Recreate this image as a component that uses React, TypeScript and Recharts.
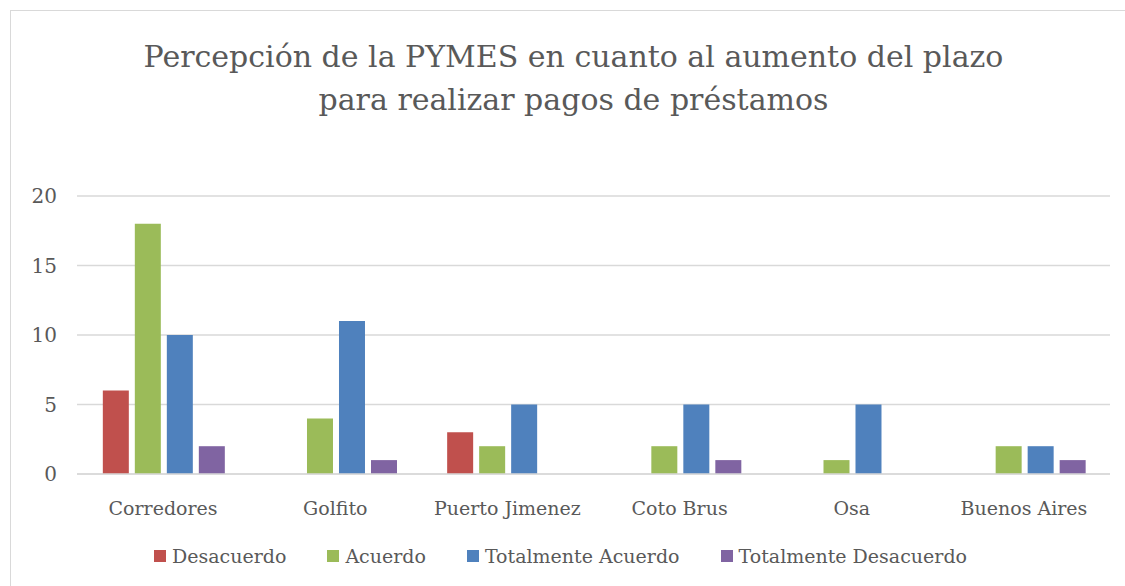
import React from "react";
import { BarChart, Bar, XAxis, YAxis, CartesianGrid, Legend } from "recharts";

const categories = ["Corredores", "Golfito", "Puerto Jimenez", "Coto Brus", "Osa", "Buenos Aires"];
const desacuerdo = [6, 0, 3, 0, 0, 0];
const acuerdo = [18, 4, 2, 2, 1, 2];
const totalmenteAcuerdo = [10, 11, 5, 5, 5, 2];
const totalmenteDesacuerdo = [2, 1, 0, 1, 0, 1];
const yTicks = [0, 5, 10, 15, 20];

const seriesDefs = [
  { key: "Desacuerdo", values: desacuerdo, color: "#C0504D" },
  { key: "Acuerdo", values: acuerdo, color: "#9BBB59" },
  { key: "Totalmente Acuerdo", values: totalmenteAcuerdo, color: "#4F81BD" },
  { key: "Totalmente Desacuerdo", values: totalmenteDesacuerdo, color: "#8064A2" },
];

const data = categories.map((c, i) => {
  const row: any = { name: c };
  seriesDefs.forEach((s) => (row[s.key] = s.values[i]));
  return row;
});

const FONT = "'DejaVu Serif', serif";
const TEXT = "#595959";

const renderLegend = () => (
  <div style={{ display: "flex", justifyContent: "center", alignItems: "center", fontFamily: FONT, fontSize: 19, color: TEXT, gap: 41, height: 28, paddingRight: 16 }}>
    {seriesDefs.map((s) => (
      <div key={s.key} style={{ display: "flex", alignItems: "center" }}>
        <span style={{ display: "inline-block", width: 12, height: 12, background: s.color, marginRight: 6 }} />
        <span>{s.key}</span>
      </div>
    ))}
  </div>
);

export default function App() {
  return (
    <div style={{ position: "absolute", left: 10, top: 10, width: 1130, height: 590, border: "1px solid #d9d9d9", background: "#fff", overflow: "hidden" }}>
      <div style={{ position: "absolute", left: 0, top: 24, width: 1125, textAlign: "center", fontFamily: FONT, fontSize: 30, color: TEXT, lineHeight: "43px" }}>
        Percepción de la PYMES en cuanto al aumento del plazo
        <br />
        para realizar pagos de préstamos
      </div>
      <div style={{ position: "absolute", left: 0, top: 0 }}>
        <BarChart
          width={1120}
          height={575}
          data={data}
          margin={{ top: 185, right: 21, left: 16, bottom: 16 }}
          barGap={6}
          barCategoryGap="15%"
        >
          <CartesianGrid vertical={false} stroke="#d9d9d9" strokeWidth={1.5} />
          <XAxis
            dataKey="name"
            height={68}
            tickLine={false}
            axisLine={{ stroke: "#d9d9d9", strokeWidth: 1.5 }}
            tick={{ fill: TEXT, fontFamily: FONT, fontSize: 19 }}
            tickMargin={22}
          />
          <YAxis
            width={50}
            domain={[0, 20]}
            ticks={yTicks}
            axisLine={false}
            tickLine={false}
            tick={{ fill: TEXT, fontFamily: FONT, fontSize: 20 }}
            tickMargin={14}
          />
          <Legend verticalAlign="bottom" content={renderLegend} />
          {seriesDefs.map((s) => (
            <Bar key={s.key} dataKey={s.key} fill={s.color} isAnimationActive={false} />
          ))}
        </BarChart>
      </div>
    </div>
  );
}
